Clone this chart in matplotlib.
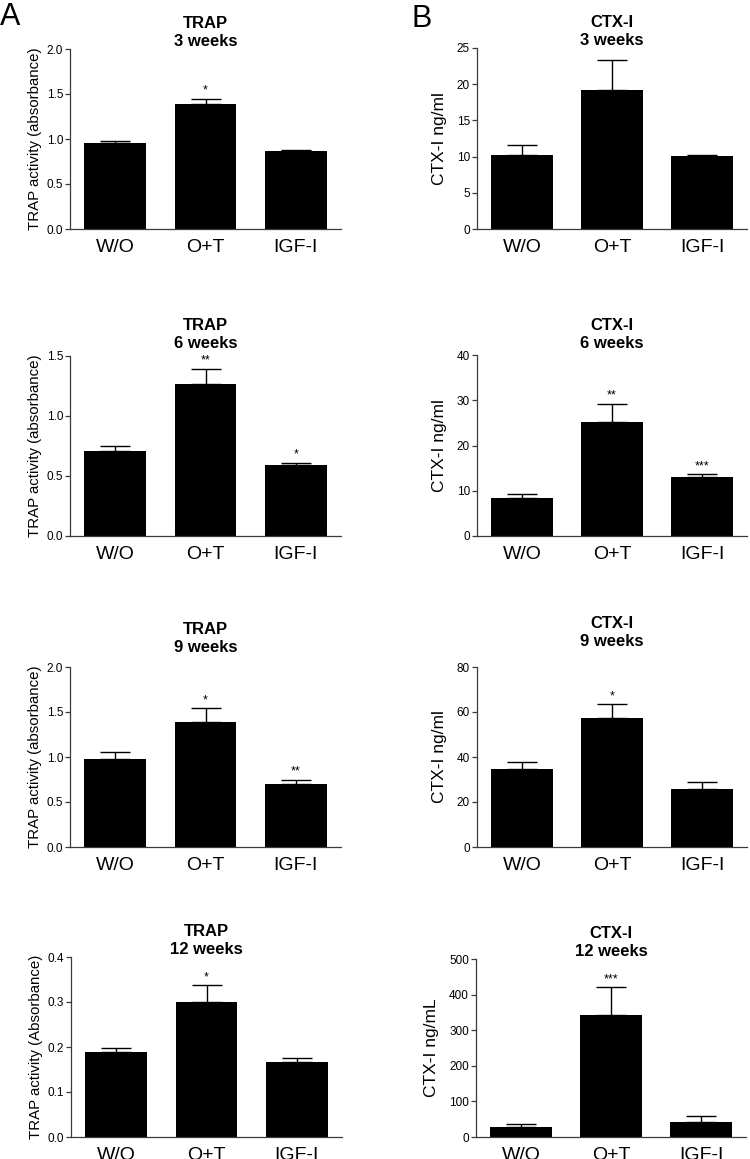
import matplotlib
matplotlib.use("Agg")
import matplotlib.pyplot as plt
from matplotlib.ticker import FormatStrFormatter, MultipleLocator

plt.rcParams['font.family'] = ['Liberation Sans', 'DejaVu Sans']

groups = ["W/O", "O+T", "IGF-I"]

# TRAP activity (absorbance)
trap_3w = [0.96, 1.385, 0.87]
trap_3w_sem = [0.022, 0.063, 0.011]
trap_6w = [0.711, 1.267, 0.594]
trap_6w_sem = [0.039, 0.127, 0.017]
trap_9w = [0.983, 1.392, 0.705]
trap_9w_sem = [0.075, 0.152, 0.041]
trap_12w = [0.190, 0.300, 0.166]
trap_12w_sem = [0.0082, 0.037, 0.0104]

# CTX-I ng/ml
ctx_3w = [10.2, 19.15, 10.04]
ctx_3w_sem = [1.36, 4.15, 0.16]
ctx_6w = [8.49, 25.2, 13.1]
ctx_6w_sem = [0.71, 4.0, 0.5]
ctx_9w = [34.8, 57.4, 25.9]
ctx_9w_sem = [3.0, 6.1, 3.1]
ctx_12w = [28.1, 341.8, 43.1]
ctx_12w_sem = [8.4, 78.6, 15.0]

stars_trap = [["", "*", ""], ["", "**", "*"], ["", "*", "**"], ["", "*", ""]]
stars_ctx = [["", "", ""], ["", "**", "***"], ["", "*", ""], ["", "***", ""]]

titles_trap = ["TRAP\n3 weeks", "TRAP\n6 weeks", "TRAP\n9 weeks", "TRAP\n12 weeks"]
titles_ctx = ["CTX-I\n3 weeks", "CTX-I\n6 weeks", "CTX-I\n9 weeks", "CTX-I\n12 weeks"]
ylabels_trap = ["TRAP activity (absorbance)"] * 3 + ["TRAP activity (Absorbance)"]
ylabels_ctx = ["CTX-I ng/ml"] * 3 + ["CTX-I ng/mL"]

trap_ymax = [2.0, 1.5, 2.0, 0.4]
trap_step = [0.5, 0.5, 0.5, 0.1]
ctx_ymax = [25, 40, 80, 500]
ctx_step = [5, 10, 20, 100]

W, H = 750, 1159
fig = plt.figure(figsize=(W / 100, H / 100), dpi=100)

# axes boxes in pixels: (left, right, top, bottom)
boxes_A = [(70, 341, 49, 229), (70, 341, 356, 536), (70, 341, 667, 847), (71, 342, 957, 1137)]
boxes_B = [(477, 747, 48, 229), (477, 747, 355, 536), (477, 747, 667, 847), (476, 746, 959, 1137)]
title_pads_A = [1.5, 6, 11, 2]
title_pads_B = [1.5, 5, 15, 2]

trap_means = [trap_3w, trap_6w, trap_9w, trap_12w]
trap_sems = [trap_3w_sem, trap_6w_sem, trap_9w_sem, trap_12w_sem]
ctx_means = [ctx_3w, ctx_6w, ctx_9w, ctx_12w]
ctx_sems = [ctx_3w_sem, ctx_6w_sem, ctx_9w_sem, ctx_12w_sem]

spine_color = "#3a3a3a"


def panel(box, means, sems, stars, title, ylabel, ymax, step, fmt, ylabel_size, lpad, tpad):
    l, r, t, b = box
    ax = fig.add_axes([l / W, 1 - b / H, (r - l) / W, (b - t) / H])
    x = list(range(len(groups)))
    ax.bar(x, means, width=0.68, color="black", zorder=2)
    ax.errorbar(x, means, yerr=[[0] * len(sems), sems], fmt="none", ecolor="black",
                elinewidth=1.0, capsize=10.5, capthick=1.0, zorder=1)
    for xi, m, s, st in zip(x, means, sems, stars):
        if st:
            ax.annotate(st, (xi, m + s), xytext=(0, 1.5), textcoords="offset points",
                        ha="center", va="bottom", fontsize=9)
    ax.set_xlim(-0.5, 2.5)
    ax.set_ylim(0, ymax)
    ax.yaxis.set_major_locator(MultipleLocator(step))
    if fmt:
        ax.yaxis.set_major_formatter(FormatStrFormatter(fmt))
    ax.set_xticks(x)
    ax.set_xticklabels(groups, fontsize=14)
    ax.tick_params(axis="x", length=0, pad=7.5)
    ax.tick_params(axis="y", length=3.5, width=0.9, color=spine_color, labelsize=8.5, pad=1.5)
    for sp in ["top", "right"]:
        ax.spines[sp].set_visible(False)
    for sp in ["left", "bottom"]:
        ax.spines[sp].set_color(spine_color)
        ax.spines[sp].set_linewidth(0.9)
    ax.set_title(title, fontsize=12, fontweight="bold", linespacing=1.25, pad=tpad)
    ax.set_ylabel(ylabel, fontsize=ylabel_size, labelpad=lpad)
    return ax


for i in range(4):
    panel(boxes_A[i], trap_means[i], trap_sems[i], stars_trap[i], titles_trap[i],
          ylabels_trap[i], trap_ymax[i], trap_step[i], "%.1f", 10.8, 3, title_pads_A[i])
    panel(boxes_B[i], ctx_means[i], ctx_sems[i], stars_ctx[i], titles_ctx[i],
          ylabels_ctx[i], ctx_ymax[i], ctx_step[i], "%d", 12.5, 7, title_pads_B[i])

fig.text(0 / W, 1 - 2 / H, "A", fontsize=22, ha="left", va="top")
fig.text(412 / W, 1 - 4 / H, "B", fontsize=22, ha="left", va="top")

fig.savefig("out.png", dpi=100, facecolor="white")
